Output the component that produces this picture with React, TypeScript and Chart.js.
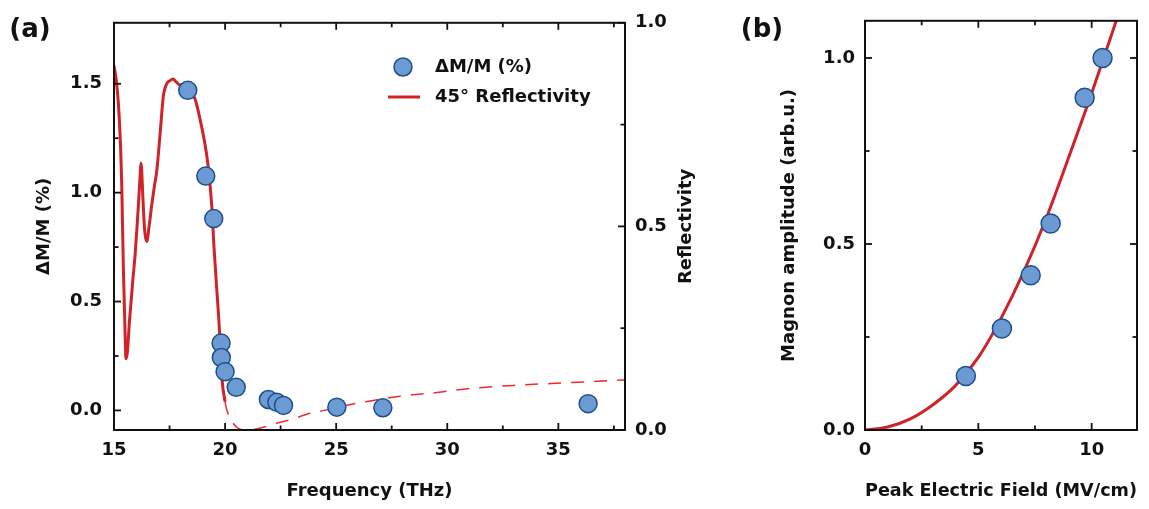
import React, { useEffect, useRef } from 'react';
import { Chart, registerables } from 'chart.js';

Chart.register(...registerables);

// ---------- Panel (a) data ----------
const pointFreq = [18.32, 19.13, 19.49, 19.82, 19.83, 20.0, 20.5, 21.95, 22.33, 22.63, 25.03, 27.1, 36.34];
const pointDmm = [1.47, 1.076, 0.881, 0.309, 0.243, 0.178, 0.106, 0.05, 0.037, 0.023, 0.015, 0.012, 0.031];

const reflSolidFreq = [15.0, 15.1, 15.2, 15.3, 15.35, 15.42, 15.48, 15.54, 15.6, 15.7, 15.85, 15.95, 16.05, 16.15, 16.22, 16.3, 16.38, 16.47, 16.58, 16.7, 16.82, 16.92, 17.07, 17.22, 17.37, 17.52, 17.65, 17.8, 17.95, 18.1, 18.3, 18.5, 18.65, 18.87, 19.1, 19.25, 19.4, 19.5, 19.62, 19.72, 19.8, 19.87, 20.0];
const reflSolidValues = [0.895, 0.86, 0.8, 0.69, 0.6, 0.4, 0.28, 0.175, 0.19, 0.27, 0.37, 0.43, 0.51, 0.6, 0.655, 0.57, 0.49, 0.463, 0.5, 0.553, 0.6, 0.634, 0.724, 0.82, 0.85, 0.858, 0.862, 0.855, 0.848, 0.848, 0.84, 0.826, 0.813, 0.764, 0.7, 0.642, 0.55, 0.45, 0.35, 0.27, 0.19, 0.12, 0.069];

const reflDashFreq = [20.0, 20.08, 20.37, 20.6, 20.9, 21.3, 21.8, 22.4, 22.85, 23.83, 24.36, 25.86, 26.38, 27.88, 29.53, 31.04, 33.14, 35.39, 37.64, 38.0];
const reflDashValues = [0.069, 0.049, 0.016, 0.004, 0.0, 0.001, 0.008, 0.018, 0.024, 0.041, 0.047, 0.065, 0.07, 0.083, 0.092, 0.102, 0.11, 0.116, 0.122, 0.123];

const freqTicks = [15, 20, 25, 30, 35];
const freqMinor = [17.5, 22.5, 27.5, 32.5, 37.5];
const dmmTicks = [0, 0.5, 1.0, 1.5];
const dmmMinor = [0.25, 0.75, 1.25];
const reflTicks = [0, 0.5, 1.0];
const reflMinor = [0.25, 0.75];

// ---------- Panel (b) data ----------
const fieldPoints = [4.45, 6.04, 7.31, 8.19, 9.69, 10.48];
const ampPoints = [0.145, 0.273, 0.416, 0.555, 0.893, 1.0];

const fitField = [0, 1, 2, 3, 4, 5, 6, 7, 8, 9, 10, 11, 11.3];
const fitAmp = [0, 0.008, 0.03, 0.068, 0.12, 0.195, 0.3, 0.425, 0.57, 0.735, 0.905, 1.085, 1.14];

const fieldTicks = [0, 5, 10];
const fieldMinor = [2.5, 7.5];
const ampTicks = [0, 0.5, 1.0];
const ampMinor = [0.25, 0.75];

// ---------- styles ----------
const FONT_FAMILY = "'DejaVu Sans', sans-serif";
const INK = '#111111';
const RED = '#cf2229';
const RED_LIGHT = '#ee2a30';
const BLUE = '#6b9bd2';
const BLUE_EDGE = '#1e4f8c';
const tickFont = { family: FONT_FAMILY, size: 18, weight: 'bold' as const };
const titleFont = { family: FONT_FAMILY, size: 18, weight: 'bold' as const };

type Side = { scaleId: string; side: 'left' | 'right' | 'top' | 'bottom'; major: number[]; minor: number[] };

function makeFramePlugin(sides: Side[]) {
  return {
    id: 'frameTicks',
    afterDatasetsDraw(chart: any) {
      const { ctx, chartArea: a } = chart;
      ctx.save();
      ctx.strokeStyle = INK;
      ctx.lineWidth = 1.8;
      for (const s of sides) {
        const scale = chart.scales[s.scaleId];
        const draw = (v: number, len: number) => {
          const p = scale.getPixelForValue(v);
          ctx.beginPath();
          if (s.side === 'bottom') { ctx.moveTo(p, a.bottom); ctx.lineTo(p, a.bottom - len); }
          if (s.side === 'top') { ctx.moveTo(p, a.top); ctx.lineTo(p, a.top + len); }
          if (s.side === 'left') { ctx.moveTo(a.left, p); ctx.lineTo(a.left + len, p); }
          if (s.side === 'right') { ctx.moveTo(a.right, p); ctx.lineTo(a.right - len, p); }
          ctx.stroke();
        };
        s.major.forEach((v) => draw(v, 7));
        s.minor.forEach((v) => draw(v, 4.5));
      }
      ctx.lineWidth = 2;
      ctx.strokeRect(a.left, a.top, a.right - a.left, a.bottom - a.top);
      ctx.restore();
    },
  };
}

function makeOverlayPlugin(label: string, lx: number, ly: number, withLegend: boolean) {
  return {
    id: 'overlayText',
    afterDraw(chart: any) {
      const { ctx, chartArea: a } = chart;
      ctx.save();
      ctx.fillStyle = INK;
      ctx.textAlign = 'center';
      ctx.textBaseline = 'middle';
      ctx.font = `bold 26px ${FONT_FAMILY}`;
      ctx.fillText(label, lx, ly);
      if (withLegend) {
        // right axis title, reading bottom-to-top
        ctx.save();
        ctx.font = `bold 18px ${FONT_FAMILY}`;
        ctx.translate(686, (a.top + a.bottom) / 2);
        ctx.rotate(-Math.PI / 2);
        ctx.fillText('Reflectivity', 0, 0);
        ctx.restore();

        ctx.beginPath();
        ctx.arc(403, 67, 9, 0, Math.PI * 2);
        ctx.fillStyle = BLUE;
        ctx.fill();
        ctx.lineWidth = 1.5;
        ctx.strokeStyle = BLUE_EDGE;
        ctx.stroke();
        ctx.beginPath();
        ctx.moveTo(388, 97);
        ctx.lineTo(420, 97);
        ctx.lineWidth = 3;
        ctx.strokeStyle = RED;
        ctx.stroke();
        ctx.fillStyle = INK;
        ctx.textAlign = 'left';
        ctx.font = `bold 18px ${FONT_FAMILY}`;
        ctx.fillText('ΔM/M (%)', 435, 67);
        ctx.fillText('45° Reflectivity', 435, 97);
      }
      ctx.restore();
    },
  };
}

const fix1 = (v: any) => Number(v).toFixed(1);
const plain = (v: any) => String(v);

export default function App() {
  const refA = useRef<HTMLCanvasElement>(null);
  const refB = useRef<HTMLCanvasElement>(null);

  useEffect(() => {
    const chartA = new Chart(refA.current as HTMLCanvasElement, {
      type: 'line',
      data: {
        datasets: [
          {
            label: 'ΔM/M (%)',
            data: pointFreq.map((x, i) => ({ x, y: pointDmm[i] })),
            yAxisID: 'y',
            showLine: false,
            pointRadius: 9,
            pointBackgroundColor: BLUE,
            pointBorderColor: BLUE_EDGE,
            pointBorderWidth: 1.5,
          },
          {
            label: '45° Reflectivity',
            data: reflSolidFreq.map((x, i) => ({ x, y: reflSolidValues[i] })),
            yAxisID: 'y2',
            borderColor: RED,
            borderWidth: 3,
            pointRadius: 0,
            cubicInterpolationMode: 'monotone',
          },
          {
            label: 'Reflectivity (extrapolated)',
            data: reflDashFreq.map((x, i) => ({ x, y: reflDashValues[i] })),
            yAxisID: 'y2',
            borderColor: RED_LIGHT,
            borderWidth: 1.5,
            borderDash: [13, 10],
            pointRadius: 0,
            cubicInterpolationMode: 'monotone',
          },
        ],
      } as any,
      options: {
        responsive: false,
        animation: false,
        layout: { padding: { top: 20, left: 0, right: 0, bottom: 0 } },
        plugins: { legend: { display: false }, tooltip: { enabled: false } },
        scales: {
          x: {
            type: 'linear',
            position: 'bottom',
            min: 15,
            max: 38,
            grid: { display: false, drawTicks: false },
            border: { display: false },
            afterBuildTicks: (s: any) => { s.ticks = freqTicks.map((v) => ({ value: v })); },
            ticks: { font: tickFont, color: INK, padding: 10, callback: plain, autoSkip: false, maxRotation: 0 },
            title: { display: true, text: 'Frequency (THz)', font: titleFont, color: INK, padding: { top: 0, bottom: 7 } },
            afterFit: (s: any) => { s.height = 79; },
          },
          y: {
            type: 'linear',
            position: 'left',
            min: -0.09,
            max: 1.78,
            grid: { display: false, drawTicks: false },
            border: { display: false },
            afterBuildTicks: (s: any) => { s.ticks = dmmTicks.map((v) => ({ value: v })); },
            ticks: { font: tickFont, color: INK, padding: 12, callback: fix1 },
            title: { display: true, text: 'ΔM/M (%)', font: titleFont, color: INK, padding: { top: 34, bottom: 0 } },
            afterFit: (s: any) => { s.width = 114; },
          },
          y2: {
            type: 'linear',
            position: 'right',
            min: 0,
            max: 1,
            grid: { display: false, drawTicks: false },
            border: { display: false },
            afterBuildTicks: (s: any) => { s.ticks = reflTicks.map((v) => ({ value: v })); },
            ticks: { font: tickFont, color: INK, padding: 10, callback: fix1 },
            title: { display: false },
            afterFit: (s: any) => { s.width = 95; },
          },
        },
      } as any,
      plugins: [
        makeFramePlugin([
          { scaleId: 'x', side: 'bottom', major: freqTicks, minor: freqMinor },
          { scaleId: 'x', side: 'top', major: freqTicks, minor: freqMinor },
          { scaleId: 'y', side: 'left', major: dmmTicks, minor: dmmMinor },
          { scaleId: 'y2', side: 'right', major: reflTicks, minor: reflMinor },
        ]),
        makeOverlayPlugin('(a)', 30, 30, true),
      ],
    });

    const chartB = new Chart(refB.current as HTMLCanvasElement, {
      type: 'line',
      data: {
        datasets: [
          {
            label: 'Magnon amplitude',
            data: fieldPoints.map((x, i) => ({ x, y: ampPoints[i] })),
            showLine: false,
            pointRadius: 9.5,
            pointBackgroundColor: BLUE,
            pointBorderColor: BLUE_EDGE,
            pointBorderWidth: 1.5,
          },
          {
            label: 'Fit',
            data: fitField.map((x, i) => ({ x, y: fitAmp[i] })),
            borderColor: RED,
            borderWidth: 3,
            pointRadius: 0,
            cubicInterpolationMode: 'monotone',
          },
        ],
      } as any,
      options: {
        responsive: false,
        animation: false,
        layout: { padding: { top: 20, left: 0, right: 12, bottom: 0 } },
        plugins: { legend: { display: false }, tooltip: { enabled: false } },
        scales: {
          x: {
            type: 'linear',
            position: 'bottom',
            min: 0,
            max: 12,
            grid: { display: false, drawTicks: false },
            border: { display: false },
            afterBuildTicks: (s: any) => { s.ticks = fieldTicks.map((v) => ({ value: v })); },
            ticks: { font: tickFont, color: INK, padding: 10, callback: plain, autoSkip: false, maxRotation: 0 },
            title: { display: true, text: 'Peak Electric Field (MV/cm)', font: titleFont, color: INK, padding: { top: 0, bottom: 7 } },
            afterFit: (s: any) => { s.height = 79; },
          },
          y: {
            type: 'linear',
            position: 'left',
            min: 0,
            max: 1.1,
            grid: { display: false, drawTicks: false },
            border: { display: false },
            afterBuildTicks: (s: any) => { s.ticks = ampTicks.map((v) => ({ value: v })); },
            ticks: { font: tickFont, color: INK, padding: 10, callback: fix1 },
            title: { display: true, text: 'Magnon amplitude (arb.u.)', font: titleFont, color: INK, padding: { top: 59, bottom: 0 } },
            afterFit: (s: any) => { s.width = 145; },
          },
        },
      } as any,
      plugins: [
        makeFramePlugin([
          { scaleId: 'x', side: 'bottom', major: fieldTicks, minor: fieldMinor },
          { scaleId: 'x', side: 'top', major: fieldTicks, minor: fieldMinor },
          { scaleId: 'y', side: 'left', major: ampTicks, minor: ampMinor },
          { scaleId: 'y', side: 'right', major: ampTicks, minor: ampMinor },
        ]),
        makeOverlayPlugin('(b)', 42, 30, false),
      ],
    });

    return () => {
      chartA.destroy();
      chartB.destroy();
    };
  }, []);

  return (
    <div style={{ position: 'fixed', left: 0, top: 0, width: 1149, height: 509, background: '#ffffff', overflow: 'hidden' }}>
      <canvas ref={refA} width={720} height={509} style={{ position: 'absolute', left: 0, top: 0, width: 720, height: 509 }} />
      <canvas ref={refB} width={429} height={509} style={{ position: 'absolute', left: 720, top: 0, width: 429, height: 509 }} />
    </div>
  );
}
